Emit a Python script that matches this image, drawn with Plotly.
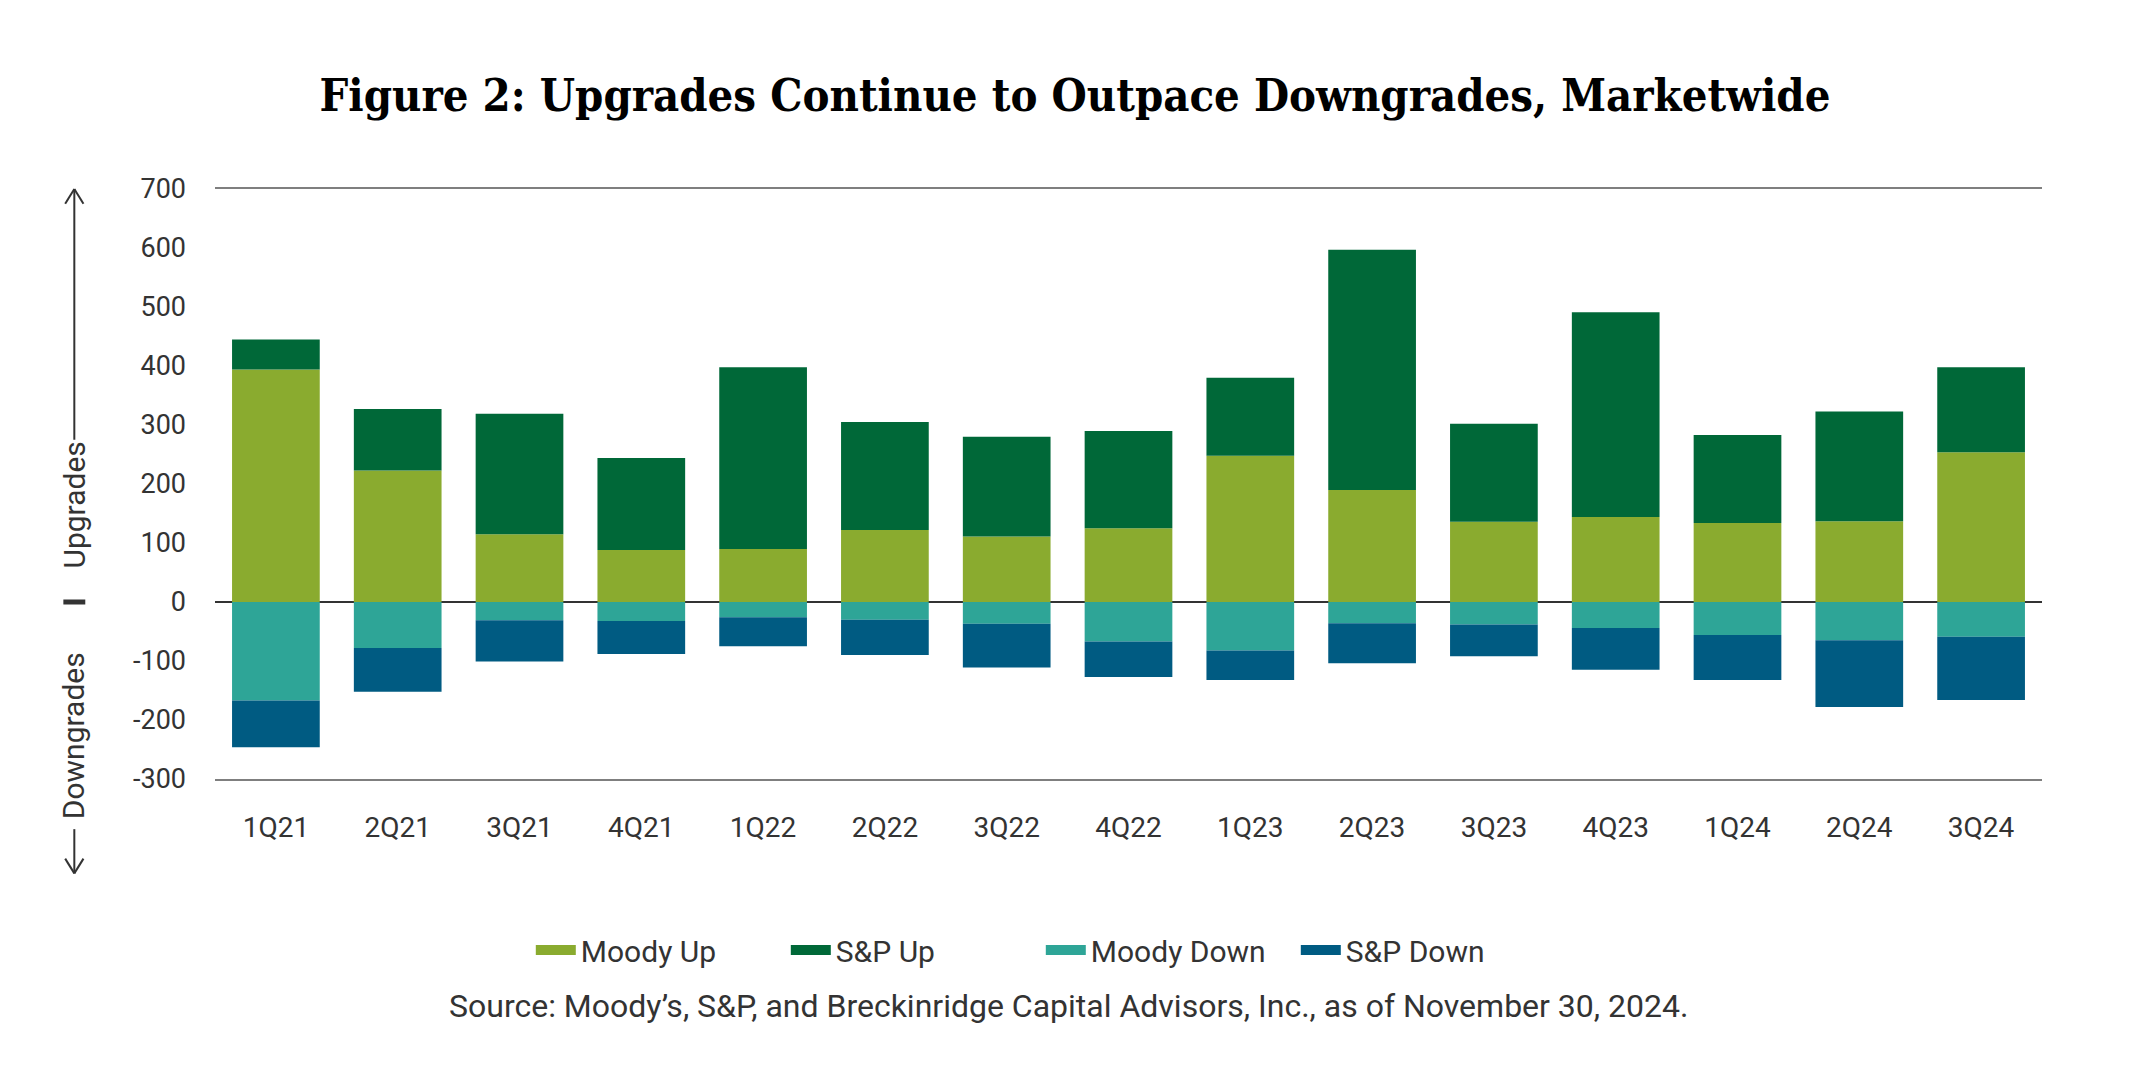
import plotly.graph_objects as go

quarters = ["1Q21", "2Q21", "3Q21", "4Q21", "1Q22", "2Q22", "3Q22", "4Q22",
            "1Q23", "2Q23", "3Q23", "4Q23", "1Q24", "2Q24", "3Q24"]
moody_up = [394, 223, 115, 88, 90, 122, 111, 125, 248, 190, 136, 144, 134, 137, 254]
sp_up = [51, 104, 204, 156, 308, 183, 169, 165, 132, 407, 166, 347, 149, 186, 144]
moody_down = [-167, -78, -31, -32, -26, -30, -37, -67, -82, -36, -38, -44, -56, -65, -59]
sp_down = [-79, -74, -70, -56, -49, -60, -74, -60, -50, -68, -54, -71, -76, -113, -107]
y_ticks = [-300, -200, -100, 0, 100, 200, 300, 400, 500, 600, 700]
y_tick_labels = [str(v) for v in y_ticks]

series = [
    ("Moody Up", moody_up, "#8AAB2F"),
    ("S&P Up", sp_up, "#006838"),
    ("Moody Down", moody_down, "#2EA597"),
    ("S&P Down", sp_down, "#005B82"),
]

FONT = "Roboto, 'DejaVu Sans', sans-serif"
TXT = "#333333"

fig = go.Figure()
for name, vals, color in series:
    fig.add_trace(go.Bar(
        x=quarters, y=vals, name=name, showlegend=False,
        marker=dict(color=color, line=dict(width=0)),
    ))
# legend-only swatches (wide bars like the reference legend)
for name, vals, color in series:
    fig.add_trace(go.Scatter(
        x=[None], y=[None], name=name, mode="lines",
        line=dict(color=color, width=10),
    ))

fig.update_layout(
    width=2134, height=1067,
    barmode="relative", bargap=0.28,
    plot_bgcolor="white", paper_bgcolor="white",
    margin=dict(l=207, r=100, t=181, b=296),
    font=dict(family=FONT, size=26, color=TXT),
    title=dict(
        text="<b>Figure 2: Upgrades Continue to Outpace Downgrades, Marketwide</b>",
        x=0.5, xanchor="center", y=0.918, yanchor="middle",
        font=dict(family="'DejaVu Serif Condensed', 'DejaVu Serif', serif", size=45, color="#000000"),
    ),
    showlegend=True,
    legend=dict(
        orientation="h", x=0.452, xanchor="center", y=-0.29, yanchor="middle",
        font=dict(family=FONT, size=30, color=TXT),
        traceorder="normal", itemwidth=40, entrywidth=200,
    ),
    xaxis=dict(
        range=[-0.5, 14.5], showgrid=False, showline=True, mirror=True,
        linecolor="#7f7f7f", linewidth=2, ticks="", ticklabelstandoff=22,
        tickfont=dict(family=FONT, size=28, color=TXT),
    ),
    yaxis=dict(
        range=[-300, 700], tickvals=y_ticks, ticktext=y_tick_labels,
        showgrid=False, showline=False,
        zeroline=True, zerolinecolor="#333333", zerolinewidth=2,
        ticks="", ticklabelstandoff=28,
        tickfont=dict(family=FONT, size=27, color=TXT),
    ),
)

# Source line
fig.add_annotation(
    text="Source: Moody\u2019s, S&P, and Breckinridge Capital Advisors, Inc., as of November 30, 2024.",
    xref="paper", yref="paper", x=0.467, y=-0.384, xanchor="center", yanchor="middle",
    showarrow=False, font=dict(family=FONT, size=32, color=TXT),
)

# Left side direction indicators
AX = -0.077
fig.add_annotation(text="Upgrades", textangle=-90, xref="paper", yref="paper",
                   x=AX, y=0.464, xanchor="center", yanchor="middle", showarrow=False,
                   font=dict(family=FONT, size=30, color=TXT))
fig.add_annotation(text="Downgrades", textangle=-90, xref="paper", yref="paper",
                   x=AX, y=0.073, xanchor="center", yanchor="middle", showarrow=False,
                   font=dict(family=FONT, size=30, color=TXT))
arrow_lines = [
    (AX, AX, 0.575, 1.0, 2),
    (AX - 0.005, AX, 0.975, 1.0, 2),
    (AX + 0.005, AX, 0.975, 1.0, 2),
    (AX - 0.006, AX + 0.006, 0.3, 0.3, 5),
    (AX, AX, -0.085, -0.16, 2),
    (AX - 0.005, AX, -0.135, -0.16, 2),
    (AX + 0.005, AX, -0.135, -0.16, 2),
]
for x0, x1, y0, y1, w in arrow_lines:
    fig.add_shape(type="line", xref="paper", yref="paper", x0=x0, x1=x1, y0=y0, y1=y1,
                  line=dict(color=TXT, width=w))

fig.write_html("out.html")
